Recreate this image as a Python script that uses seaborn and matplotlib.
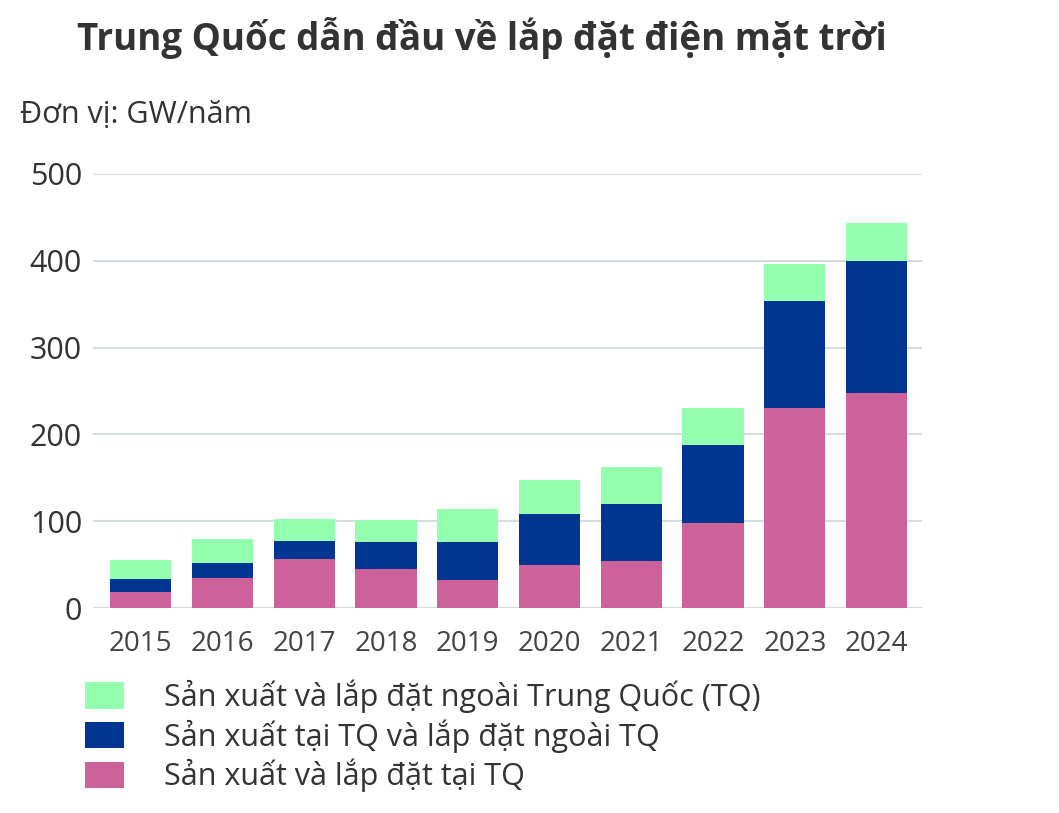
import matplotlib
matplotlib.use("Agg")
import matplotlib.pyplot as plt
import seaborn as sns
import pandas as pd
from matplotlib.patches import Patch

years = ["2015", "2016", "2017", "2018", "2019", "2020", "2021", "2022", "2023", "2024"]
# GW/year
made_installed_cn = [18, 35, 57, 45, 32, 50, 54, 98, 230, 248]
made_cn_installed_abroad = [16, 17, 20, 31, 44, 58, 66, 90, 124, 152]
made_installed_abroad = [21, 28, 26, 26, 38, 39, 42, 42, 42, 44]

labels = ["Sản xuất và lắp đặt ngoài Trung Quốc (TQ)",
          "Sản xuất tại TQ và lắp đặt ngoài TQ",
          "Sản xuất và lắp đặt tại TQ"]
colors = ["#95FFB0", "#003591", "#CC6299"]

df = pd.DataFrame({"year": years,
                   "pink": made_installed_cn,
                   "blue": made_cn_installed_abroad,
                   "green": made_installed_abroad})
df["lvl1"] = df["pink"]
df["lvl2"] = df["pink"] + df["blue"]
df["lvl3"] = df["lvl2"] + df["green"]

sns.set_theme(style="white")
plt.rcParams["font.family"] = ["Open Sans", "DejaVu Sans"]

fig = plt.figure(figsize=(10.59, 8.13), dpi=100)
ax = fig.add_axes([0.088, 0.252, 0.783, 0.534])

# overlay cumulative totals, biggest first
for col, c in zip(["lvl3", "lvl2", "lvl1"], colors):
    sns.barplot(data=df, x="year", y=col, color=c, width=0.75, ax=ax,
                saturation=1, linewidth=0)

ax.set_ylim(0, 500)
ax.set_xlim(-0.58, 9.56)
ax.set_yticks([0, 100, 200, 300, 400, 500])
ax.yaxis.grid(True, color="#d5dde1", linewidth=1.4)
ax.set_axisbelow(True)
for s in ax.spines.values():
    s.set_visible(False)
ax.axhline(0, color="#c5ced3", linewidth=1.6, zorder=0.5)
ax.set_xlabel("")
ax.set_ylabel("")
ax.tick_params(axis="y", labelsize=22, colors="#333333", length=0, pad=8)
ax.tick_params(axis="x", labelsize=20, colors="#444444", length=0, pad=16)

fig.text(0.455, 0.953, "Trung Quốc dẫn đầu về lắp đặt điện mặt trời",
         ha="center", va="center", fontsize=26.5, fontweight="bold", color="#333333")
fig.text(0.019, 0.858, "Đơn vị: GW/năm", ha="left", va="center",
         fontsize=22, color="#333333")

handles = [Patch(facecolor=c, edgecolor="none") for c in colors]
fig.legend(handles, labels, loc="upper left", bbox_to_anchor=(0.08, 0.164),
           frameon=False, fontsize=22, handlelength=1.3, handleheight=0.95,
           handletextpad=1.3, labelspacing=0.2, labelcolor="#333333",
           borderaxespad=0, borderpad=0)

fig.savefig("out.png", dpi=100)
